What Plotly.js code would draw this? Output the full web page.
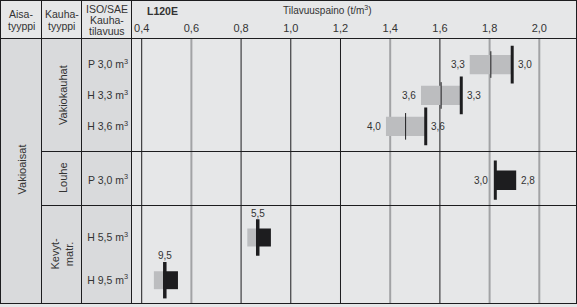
<!DOCTYPE html>
<html><head><meta charset="utf-8">
<script src="https://cdn.plot.ly/plotly-3.0.1.min.js"></script>
<style>html,body{margin:0;padding:0;background:#e6e7e8;overflow:hidden}</style>
</head><body><div id="chart" style="width:577px;height:307px"></div>
<script>
// ---------- data ----------
const xTicks = [0.4, 0.6, 0.8, 1.0, 1.2, 1.4, 1.6, 1.8, 2.0];
const gridDark = [0.4, 0.8, 1.0, 1.2, 1.6];
const gridLight = [0.6, 1.4, 1.8, 2.0];

const boomType = 'Vakioaisat';
const bucketTypes = ['Vakiokauhat', 'Louhe', 'Kevyt-<br>matr.'];

// Vakiokauhat
const vkBuckets = ['P 3,0 m<sup>3</sup>', 'H 3,3 m<sup>3</sup>', 'H 3,6 m<sup>3</sup>'];
const vkRows = [0, 1, 2];
const vkLow = [1.72, 1.524, 1.383];
const vkHigh = [1.89, 1.688, 1.54];
const vkMid = [1.805, 1.605, 1.462];
const vkLine = [1.891, 1.686, 1.543];
const vkLabelLow = ['3,3', '3,6', '4,0'];
const vkLabelHigh = ['3,0', '3,3', '3,6'];

// Louhe
const lhBuckets = ['P 3,0 m<sup>3</sup>'];
const lhRows = [0];
const lhBoxLow = [1.82];
const lhBoxHigh = [1.907];
const lhLine = [1.823];
const lhLabelLow = ['3,0'];
const lhLabelHigh = ['2,8'];

// Kevytmateriaali
const kmBuckets = ['H 5,5 m<sup>3</sup>', 'H 9,5 m<sup>3</sup>'];
const kmRows = [0, 1];
const kmLow = [0.825, 0.449];
const kmBoxLow = [0.86, 0.486];
const kmBoxHigh = [0.92, 0.546];
const kmLine = [0.867, 0.493];
const kmLabel = ['5,5', '9,5'];

// ---------- layout helpers ----------
const L = 132, R = 576, T = 38, B = 303;
const px = x => (x - L) / (R - L);
const py = y => (B - y) / (B - T);
const FONT = 'Liberation Sans, Arial, sans-serif';
const TXT = '#333333';
const INK = '#1d1d1f';
const GRAYBAR = '#bcbdbf';

const diff = (a, b) => a.map((v, i) => v - b[i]);

const traces = [
  {type: 'bar', orientation: 'h', y: vkRows, base: vkLow, x: diff(vkHigh, vkLow),
   width: 0.624, marker: {color: GRAYBAR, line: {width: 0}}, xaxis: 'x', yaxis: 'y', hoverinfo: 'skip'},
  {type: 'scatter', mode: 'markers', x: vkMid, y: vkRows, xaxis: 'x', yaxis: 'y',
   marker: {symbol: 'line-ns', size: 19, line: {width: 1, color: INK}}, hoverinfo: 'skip'},
  {type: 'scatter', mode: 'markers', x: vkLine, y: vkRows, xaxis: 'x', yaxis: 'y',
   marker: {symbol: 'line-ns', size: 27, line: {width: 3, color: INK}}, hoverinfo: 'skip'},

  {type: 'bar', orientation: 'h', y: lhRows, base: lhBoxLow, x: diff(lhBoxHigh, lhBoxLow),
   width: 0.362, marker: {color: INK, line: {width: 0}}, xaxis: 'x', yaxis: 'y2', hoverinfo: 'skip'},
  {type: 'scatter', mode: 'markers', x: lhLine, y: lhRows, xaxis: 'x', yaxis: 'y2',
   marker: {symbol: 'line-ns', size: 28, line: {width: 3, color: INK}}, hoverinfo: 'skip'},

  {type: 'bar', orientation: 'h', y: kmRows, base: kmLow, x: diff(kmBoxLow, kmLow),
   width: 0.42, marker: {color: GRAYBAR, line: {width: 0}}, xaxis: 'x', yaxis: 'y3', hoverinfo: 'skip'},
  {type: 'bar', orientation: 'h', y: kmRows, base: kmBoxLow, x: diff(kmBoxHigh, kmBoxLow),
   width: 0.42, marker: {color: INK, line: {width: 0}}, xaxis: 'x', yaxis: 'y3', hoverinfo: 'skip'},
  {type: 'scatter', mode: 'markers', x: kmLine, y: kmRows, xaxis: 'x', yaxis: 'y3',
   marker: {symbol: 'line-ns', size: 26, line: {width: 3.5, color: INK}}, hoverinfo: 'skip'}
];

// ---------- shapes ----------
const shapes = [];
// darker left table body
shapes.push({type: 'rect', xref: 'paper', yref: 'paper', x0: px(0), x1: px(131.5), y0: py(38), y1: py(303),
  fillcolor: '#d9dadc', line: {width: 0}, layer: 'below'});
// grid lines
gridDark.forEach(v => shapes.push({type: 'line', xref: 'x', yref: 'paper', x0: v, x1: v, y0: 0, y1: 1,
  line: {color: INK, width: 1}, layer: 'below'}));
gridLight.forEach(v => shapes.push({type: 'line', xref: 'x', yref: 'paper', x0: v, x1: v, y0: 0, y1: 1,
  line: {color: '#a2a3a5', width: 2}, layer: 'below'}));
const hline = (y, x0, x1) => shapes.push({type: 'line', xref: 'paper', yref: 'paper',
  x0: px(x0), x1: px(x1), y0: py(y), y1: py(y), line: {color: INK, width: 1}});
const vline = (x, y0, y1) => shapes.push({type: 'line', xref: 'paper', yref: 'paper',
  x0: px(x), x1: px(x), y0: py(y0), y1: py(y1), line: {color: INK, width: 1}});
hline(0.5, 0, 577);
hline(38.5, 0, 577);
hline(151.5, 41.5, 577);
hline(205.5, 41.5, 577);
hline(303.5, 0, 577);
vline(0.5, 0, 303.5);
vline(41.5, 0, 303.5);
vline(81.5, 0, 303.5);
vline(131.5, 0, 303.5);
vline(576.5, 0, 303.5);

// ---------- annotations ----------
const ann = [];
const txt = (x, y, text, opts = {}) => ann.push(Object.assign({xref: 'paper', yref: 'paper',
  x: px(x), y: py(y), text, showarrow: false, xanchor: 'center', yanchor: 'middle',
  font: {family: FONT, size: 10.5, color: TXT}}, opts));

// header
txt(21, 14, 'Aisa-'); txt(21, 26, 'tyyppi');
txt(61.5, 14, 'Kauha-'); txt(61.5, 26, 'tyyppi');
txt(107, 9, 'ISO/SAE'); txt(107, 20, 'Kauha-'); txt(107, 31, 'tilavuus');
txt(145, 11.5, '<b>L120E</b>', {xanchor: 'left', font: {family: FONT, size: 10.5, color: TXT}});
txt(327, 10, 'Tilavuuspaino (t/m<sup>3</sup>)', {font: {family: FONT, size: 10, color: TXT}});

// rotated group labels
txt(21.5, 170, boomType, {textangle: -90, font: {family: FONT, size: 11, color: TXT}});
txt(63, 95, bucketTypes[0], {textangle: -90, font: {family: FONT, size: 11, color: TXT}});
txt(63, 178, bucketTypes[1], {textangle: -90, font: {family: FONT, size: 11, color: TXT}});
txt(61.5, 254, bucketTypes[2], {textangle: -90, font: {family: FONT, size: 11, color: TXT}});

// value labels
const valFont = {family: FONT, size: 10, color: TXT};
vkRows.forEach((r, i) => {
  ann.push({xref: 'x', yref: 'y', x: vkLow[i], y: r, text: vkLabelLow[i], showarrow: false,
    xanchor: 'right', yanchor: 'middle', xshift: -3, font: valFont});
  ann.push({xref: 'x', yref: 'y', x: vkLine[i], y: r, text: vkLabelHigh[i], showarrow: false,
    xanchor: 'left', yanchor: 'middle', xshift: 3.5, font: valFont});
});
lhRows.forEach((r, i) => {
  ann.push({xref: 'x', yref: 'y2', x: lhLine[i], y: r, text: lhLabelLow[i], showarrow: false,
    xanchor: 'right', yanchor: 'middle', xshift: -5, font: valFont});
  ann.push({xref: 'x', yref: 'y2', x: lhBoxHigh[i], y: r, text: lhLabelHigh[i], showarrow: false,
    xanchor: 'left', yanchor: 'middle', xshift: 2.5, font: valFont});
});
kmRows.forEach((r, i) => {
  ann.push({xref: 'x', yref: 'y3', x: kmLine[i], y: r, text: kmLabel[i], showarrow: false,
    xanchor: 'center', yanchor: 'bottom', yshift: 17, font: valFont});
});

// ---------- axes ----------
const yCommon = {anchor: 'x', showgrid: false, zeroline: false, showline: false, ticks: '',
  tickfont: {family: FONT, size: 10.5, color: TXT}, ticklabelstandoff: 3, fixedrange: true};

const layout = {
  width: 577, height: 307,
  margin: {l: L, r: 577 - R, t: T, b: 307 - B, pad: 0},
  paper_bgcolor: '#e6e7e8', plot_bgcolor: 'rgba(0,0,0,0)',
  showlegend: false, barmode: 'overlay', separators: ', ',
  font: {family: FONT, color: TXT},
  xaxis: {range: [0.361, 2.1477], side: 'top', anchor: 'y', tickvals: xTicks, tickformat: '.1f',
    showgrid: false, zeroline: false, showline: false, ticks: '', ticklabelstandoff: 3,
    tickfont: {family: FONT, size: 11, color: TXT}, fixedrange: true},
  yaxis: Object.assign({}, yCommon, {domain: [py(151.5), 1], range: [2.814, -0.859],
    tickvals: vkRows, ticktext: vkBuckets}),
  yaxis2: Object.assign({}, yCommon, {domain: [py(205.5), py(151.5)], range: [0.469, -0.531],
    tickvals: lhRows, ticktext: lhBuckets}),
  yaxis3: Object.assign({}, yCommon, {domain: [0, py(205.5)], range: [1.534, -0.751],
    tickvals: kmRows, ticktext: kmBuckets}),
  shapes, annotations: ann
};

Plotly.newPlot('chart', traces, layout, {displayModeBar: false, staticPlot: true});
</script></body></html>
